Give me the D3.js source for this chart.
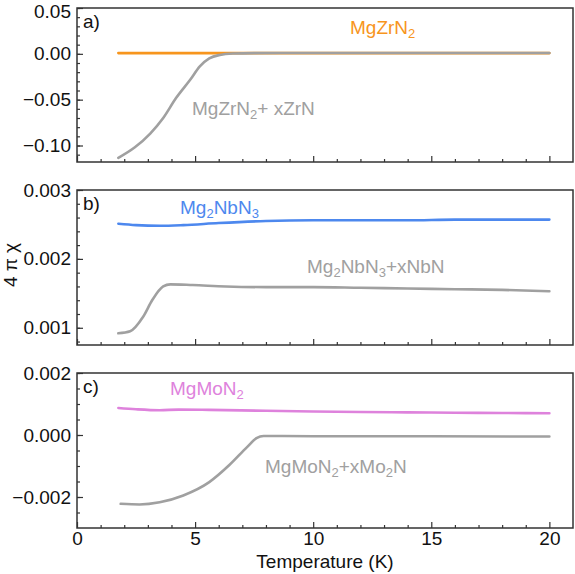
<!DOCTYPE html>
<html>
<head>
<meta charset="utf-8">
<script src="https://cdn.jsdelivr.net/npm/d3@7"></script>
<style>
    body { margin: 0; background: #fff; }
    text { font-family: "Liberation Sans", Arial, sans-serif; }
</style>
</head>
<body>
<div id="chart"></div>
<script>
// panel a: MgZrN2
const tempZrPure = [1.75, 5, 10, 15, 20];
const zrPure = [0.0008, 0.0008, 0.0008, 0.0008, 0.0008];
const tempZrMix = [1.75, 2.45, 3.1, 3.65, 4.2, 4.8, 5.2, 5.6, 6.05, 6.6, 7.5, 10, 15, 20];
const zrMix = [-0.1135, -0.102, -0.087, -0.070, -0.048, -0.028, -0.0137, -0.005, -0.0012, 0.0003, 0.0008, 0.0009, 0.0009, 0.0009];

// panel b: Mg2NbN3
const tempNbPure = [1.75, 2.5, 3.5, 4.5, 6, 8, 10, 12, 14, 16, 18, 20];
const nbPure = [0.00251, 0.00249, 0.00248, 0.00249, 0.00252, 0.00255, 0.00256, 0.00256, 0.00256, 0.00257, 0.00257, 0.00257];
const tempNbMix = [1.75, 2.25, 2.8, 3.2, 3.65, 3.95, 4.9, 6.3, 8, 10, 12, 14, 16, 18, 20];
const nbMix = [0.00092, 0.00095, 0.00116, 0.00141, 0.0016, 0.00163, 0.00162, 0.0016, 0.00159, 0.00159, 0.00158, 0.00157, 0.00156, 0.00155, 0.00153];

// panel c: MgMoN2
const tempMoPure = [1.75, 2.5, 3.5, 4.3, 5.6, 8, 10, 12, 14, 16, 18, 20];
const moPure = [0.00087, 0.00083, 0.00080, 0.00082, 0.00081, 0.00078, 0.00076, 0.00074, 0.00073, 0.00072, 0.00071, 0.0007];
const tempMoMix = [1.85, 2.65, 3.5, 4.5, 5.6, 6.45, 7.2, 7.6, 7.9, 10, 15, 20];
const moMix = [-0.00222, -0.00224, -0.00217, -0.00195, -0.00152, -0.00097, -0.00039, -0.0001, -0.00003, -0.00004, -0.00004, -0.00005];

const xTicks = [0, 5, 10, 15, 20];

const panels = [
    {
        tag: "a)", domain: [-0.118, 0.05], fmt: ".2f",
        ticks: [-0.10, -0.05, 0.00, 0.05], minor: d3.range(-0.11, 0.051, 0.01),
        series: [
            {x: tempZrPure, y: zrPure, color: "#f7951d"},
            {x: tempZrMix, y: zrMix, color: "#a0a0a0"}
        ],
        labels: [
            {parts: [["MgZrN"], ["2", 1]], x: 350, y: 34, color: "#f7951d"},
            {parts: [["MgZrN"], ["2", 1], ["+ xZrN"]], x: 192, y: 115, color: "#a0a0a0"}
        ]
    },
    {
        tag: "b)", domain: [0.00075, 0.003], fmt: ".3f",
        ticks: [0.001, 0.002, 0.003], minor: d3.range(0.0008, 0.00301, 0.0002),
        series: [
            {x: tempNbPure, y: nbPure, color: "#4d88ee"},
            {x: tempNbMix, y: nbMix, color: "#a0a0a0"}
        ],
        labels: [
            {parts: [["Mg"], ["2", 1], ["NbN"], ["3", 1]], x: 180, y: 214, color: "#4d88ee"},
            {parts: [["Mg"], ["2", 1], ["NbN"], ["3", 1], ["+xNbN"]], x: 307, y: 273, color: "#a0a0a0"}
        ]
    },
    {
        tag: "c)", domain: [-0.003, 0.002], fmt: ".3f",
        ticks: [-0.002, 0.000, 0.002], minor: d3.range(-0.0025, 0.00201, 0.0005),
        series: [
            {x: tempMoPure, y: moPure, color: "#de82dc"},
            {x: tempMoMix, y: moMix, color: "#a0a0a0"}
        ],
        labels: [
            {parts: [["MgMoN"], ["2", 1]], x: 170, y: 395, color: "#de82dc"},
            {parts: [["MgMoN"], ["2", 1], ["+xMo"], ["2", 1], ["N"]], x: 265, y: 473, color: "#a0a0a0"}
        ]
    }
];

const dims = {width: 575, height: 574};
const left = 77, right = 573;
const tops = [8, 190, 373];
const panelH = 155;

const svg = d3.select("#chart")
    .append("svg")
    .attr("width", dims.width)
    .attr("height", dims.height);

const xScale = d3.scaleLinear().domain([0, 21]).range([left, right]);

panels.forEach((p, i) => {
    const top = tops[i];
    const bottom = i == 0 ? 162 : top + panelH;
    const yScale = d3.scaleLinear().domain(p.domain).range([bottom, top]);

    const g = svg.append("g");

    // data lines
    p.series.forEach(s => {
        const pts = s.x.map((t, j) => [t, s.y[j]]);
        g.append("path")
            .datum(pts)
            .attr("fill", "none")
            .attr("stroke", s.color)
            .attr("stroke-width", 2.6)
            .attr("stroke-linecap", "round")
            .attr("d", d3.line()
                .x(d => xScale(d[0]))
                .y(d => yScale(d[1]))
                .curve(d3.curveMonotoneX));
    });

    // y axis, ticks inward
    const yAxis = g.append("g")
        .attr("transform", `translate(${left},0)`)
        .call(d3.axisLeft(yScale)
            .tickValues(p.ticks)
            .tickFormat(d3.format(p.fmt))
            .tickSizeInner(-6)
            .tickSizeOuter(0)
            .tickPadding(6));
    yAxis.select(".domain").remove();
    yAxis.selectAll("text").attr("font-size", "19px").attr("fill", "#111");
    // keep the topmost label inside the page
    if (i == 0) {
        yAxis.selectAll("text").filter(d => d == p.domain[1]).attr("dy", "0.5em");
    }

    const yMinor = g.append("g")
        .attr("transform", `translate(${left},0)`)
        .call(d3.axisLeft(yScale)
            .tickValues(p.minor)
            .tickFormat("")
            .tickSizeInner(-3)
            .tickSizeOuter(0));
    yMinor.select(".domain").remove();

    // x axis
    const xAxis = g.append("g")
        .attr("transform", `translate(0,${bottom})`)
        .call(d3.axisBottom(xScale)
            .tickValues(xTicks)
            .tickFormat(i == 2 ? d3.format("d") : "")
            .tickSizeInner(-6)
            .tickSizeOuter(0)
            .tickPadding(4));
    xAxis.select(".domain").remove();
    xAxis.selectAll("text").attr("font-size", "19px").attr("fill", "#111");

    const xMinor = g.append("g")
        .attr("transform", `translate(0,${bottom})`)
        .call(d3.axisBottom(xScale)
            .tickValues(d3.range(1, 21, 1).filter(v => v % 5 != 0))
            .tickFormat("")
            .tickSizeInner(-3)
            .tickSizeOuter(0));
    xMinor.select(".domain").remove();

    g.selectAll(".tick line").attr("stroke", "#333").attr("stroke-width", 1.2);

    // frame
    g.append("rect")
        .attr("x", left)
        .attr("y", top)
        .attr("width", right - left)
        .attr("height", bottom - top)
        .attr("fill", "none")
        .attr("stroke", "#333")
        .attr("stroke-width", 1.5);

    // panel tag
    g.append("text")
        .attr("x", 83)
        .attr("y", top + 20)
        .attr("font-size", "19px")
        .attr("fill", "#111")
        .text(p.tag);

    // series labels with subscripts
    p.labels.forEach(l => {
        const t = g.append("text")
            .attr("x", l.x)
            .attr("y", l.y)
            .attr("font-size", "19px")
            .attr("fill", l.color);
        let lowered = false;
        l.parts.forEach(part => {
            const sub = part[1] == 1;
            let dy = 0;
            if (sub && !lowered) { dy = 4; lowered = true; }
            else if (!sub && lowered) { dy = -4; lowered = false; }
            t.append("tspan")
                .attr("dy", dy)
                .attr("font-size", sub ? "13px" : "19px")
                .text(part[0]);
        });
    });
});

// axis titles
svg.append("text")
    .attr("x", (left + right) / 2)
    .attr("y", 568)
    .attr("text-anchor", "middle")
    .attr("font-size", "19px")
    .attr("fill", "#111")
    .text("Temperature (K)");

svg.append("text")
    .attr("transform", "translate(17,265) rotate(-90)")
    .attr("text-anchor", "middle")
    .attr("font-size", "19px")
    .attr("fill", "#111")
    .text("4 π χ");
</script>
</body>
</html>
